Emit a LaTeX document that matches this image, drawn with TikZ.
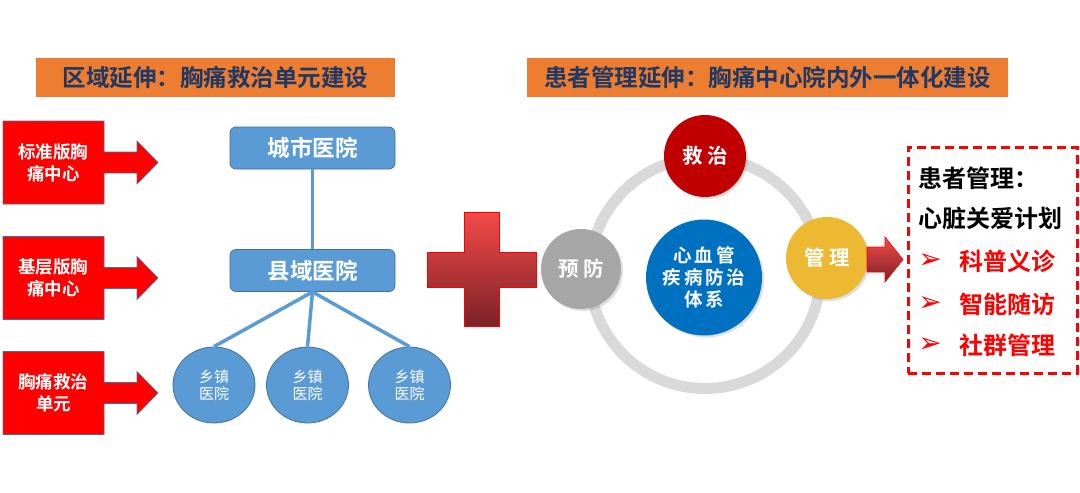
\documentclass[tikz,border=0pt]{standalone}
\usepackage{fontspec}
\setmainfont{Noto Sans CJK SC}[BoldFont={Noto Sans CJK SC Bold}]
\newfontfamily\dingfont{DejaVu Sans}
\usetikzlibrary{shapes.geometric,shadows}
\definecolor{barorange}{HTML}{ED7D31}
\definecolor{barnavy}{HTML}{1F3864}
\definecolor{hospblue}{HTML}{5B9BD5}
\definecolor{hospedge}{HTML}{41719C}
\definecolor{rescuered}{HTML}{C00000}
\definecolor{preventgray}{HTML}{A6A6A6}
\definecolor{coreblue}{HTML}{0070C0}
\definecolor{managegold}{HTML}{EDB832}
\definecolor{ringgray}{HTML}{D9D9D9}
\definecolor{crosstop}{HTML}{F54A4A}
\definecolor{crossbot}{HTML}{7B2227}
\tikzset{
  titlebar/.style={fill=barorange, minimum height=39pt, inner sep=0pt,
    text=barnavy, font=\fontsize{23.5}{26}\selectfont\bfseries},
  callout/.style={fill=red, draw=hospedge, line width=0.6pt},
  callouttext/.style={text=white, align=center, font=\fontsize{17.5}{22}\selectfont\bfseries},
  hospbox/.style={rounded corners=6pt, fill=hospblue, draw=hospedge, line width=0.8pt,
    minimum width=165pt, minimum height=42pt, text=white,
    font=\fontsize{22.5}{25}\selectfont\bfseries},
  town/.style={ellipse, fill=hospblue, draw=hospedge, line width=0.8pt,
    minimum width=82pt, minimum height=76pt, inner sep=0pt, text=white, align=center,
    font=\fontsize{15}{17}\selectfont},
  link/.style={hospblue, line width=3.5pt},
  ball/.style={circle, inner sep=0pt, text=white, align=center,
    font=\fontsize{20.5}{22}\selectfont\bfseries,
    drop shadow={opacity=.25, shadow xshift=2pt, shadow yshift=-2pt}},
  planbox/.style={draw=red, line width=3pt, dash pattern=on 9pt off 5pt},
  plantext/.style={anchor=west, inner sep=0pt, font=\fontsize{24}{26}\selectfont\bfseries},
  bullet/.style={anchor=center, inner sep=0pt, text=red, font=\dingfont\fontsize{28}{28}\selectfont}
}
\begin{document}
\begin{tikzpicture}[x=1pt, y=-1pt]
\useasboundingbox (0,0) rectangle (1080,493);
% title bars
\node[titlebar, minimum width=359pt] (lefttitle) at (215.5,77.5) {区域延伸：胸痛救治单元建设};
\node[titlebar, minimum width=481pt] (righttitle) at (767.5,77.5) {患者管理延伸：胸痛中心院内外一体化建设};
% red callouts on the left
\foreach \y/\name/\txt in {162.5/std/{标准版胸\\痛中心}, 278/base/{基层版胸\\痛中心}, 393/unit/{胸痛救治\\单元}}{
  \draw[callout] (3,\y-41.5) -- (104,\y-41.5) -- (104,\y-10.5) -- (137,\y-10.5) -- (137,\y-21.5)
    -- (158,\y) -- (137,\y+21.5) -- (137,\y+10.5) -- (104,\y+10.5) -- (104,\y+41.5) -- (3,\y+41.5) -- cycle;
  \node[callouttext] (\name) at (53.5,\y) {\txt};
}
% hospital tree
\node[hospbox] (city) at (312.5,148) {城市医院};
\node[hospbox] (county) at (312.5,270.5) {县域医院};
\node[town] (town1) at (214,385) {乡镇\\医院};
\node[town] (town2) at (307.5,385) {乡镇\\医院};
\node[town] (town3) at (409.5,385) {乡镇\\医院};
\draw[link] (city) -- (county);
\draw[link] (county.south) -- (town1.north);
\draw[link] (county.south) -- (town2.north);
\draw[link] (county.south) -- (town3.north);
% plus sign
\shadedraw[top color=crosstop, bottom color=crossbot, draw=red, line width=0.8pt]
  (464,212) -- (499,212) -- (499,252) -- (536,252) -- (536,287) -- (499,287) -- (499,326)
  -- (464,326) -- (464,287) -- (427,287) -- (427,252) -- (464,252) -- cycle;
% cycle of care
\draw[ringgray, line width=11pt] (705,273) circle[radius=115.5];
\node[ball, fill=rescuered, minimum size=82pt] (rescue) at (705,156) {救\hspace{5pt}治};
\node[ball, fill=preventgray, minimum size=80pt] (prevent) at (581,269) {预\hspace{5pt}防};
\node[ball, fill=coreblue, minimum size=116pt, font=\fontsize{18.5}{22}\selectfont\bfseries] (core) at (704,277.5)
  {心\hspace{3pt}血\hspace{3pt}管\\疾\hspace{3pt}病\hspace{3pt}防\hspace{3pt}治\\体\hspace{3pt}系};
\node[ball, fill=managegold, minimum size=82pt] (manage) at (827,258) {管\hspace{5pt}理};
\shadedraw[top color=crosstop, bottom color=crossbot, draw=red, line width=0.6pt]
  (867,247) -- (885,247) -- (885,237) -- (903,259.5) -- (885,282) -- (885,272) -- (867,272) -- cycle;
% patient management plan
\node[planbox, minimum width=169pt, minimum height=226pt] (plan) at (992.5,260) {};
\node[plantext] (plantitle) at (918,178) {患者管理：};
\node[plantext] (planname) at (918,218) {心脏关爱计划};
\foreach \y/\name/\txt in {261/item1/科普义诊, 304/item2/智能随访, 345/item3/社群管理}{
  \node[bullet] (\name mark) at (930,\y) {➢};
  \node[plantext, text=red] (\name) at (959,\y) {\txt};
}
\end{tikzpicture}
\end{document}
